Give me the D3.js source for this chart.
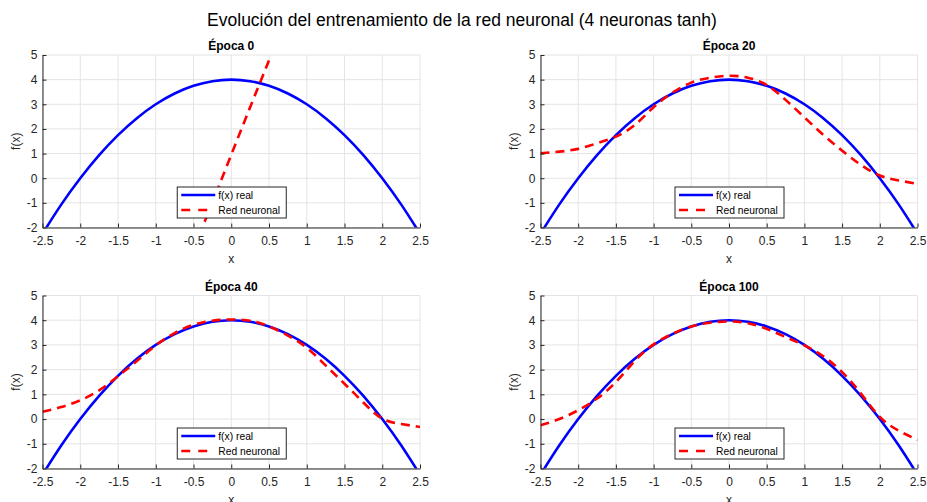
<!DOCTYPE html>
<html>
<head>
<meta charset="utf-8">
<script src="https://cdn.jsdelivr.net/npm/d3@7"></script>
<style>
  html, body { margin: 0; padding: 0; background: #fff; }
  svg { display: block; font-family: "Liberation Sans", Arial, sans-serif; }
</style>
</head>
<body>
<svg id="chart" width="927" height="502"></svg>
<script>
// Sample positions along x
const xs = [-2.5, -2.25, -2, -1.75, -1.5, -1.25, -1, -0.75, -0.5, -0.25, 0,
            0.25, 0.5, 0.75, 1, 1.25, 1.5, 1.75, 2, 2.25, 2.5];

// Target function f(x) = 4 - x^2
const fReal = [-2.25, -1.0625, 0, 0.9375, 1.75, 2.4375, 3, 3.4375, 3.75, 3.9375, 4,
               3.9375, 3.75, 3.4375, 3, 2.4375, 1.75, 0.9375, 0, -1.0625, -2.25];

// Network output at each snapshot
const xsEpoca0 = [-0.5, -0.25, 0, 0.25, 0.5];
const redEpoca0 = [-2.9, -0.98, 0.95, 2.88, 4.78];
const redEpoca20 = [1.01, 1.08, 1.19, 1.42, 1.69, 2.16, 2.88, 3.47, 3.88, 4.08, 4.16,
                    4.08, 3.78, 3.18, 2.47, 1.76, 1.12, 0.54, 0.11, -0.09, -0.23];
const redEpoca40 = [0.29, 0.49, 0.76, 1.16, 1.73, 2.35, 2.98, 3.48, 3.82, 3.98, 4.03,
                    3.98, 3.75, 3.38, 2.89, 2.17, 1.43, 0.67, 0.02, -0.2, -0.32];
const redEpoca100 = [-0.25, 0.0, 0.36, 0.83, 1.5, 2.35, 3.02, 3.45, 3.75, 3.9, 3.95,
                     3.88, 3.65, 3.32, 2.98, 2.54, 1.9, 1.03, 0.09, -0.47, -0.84];

const xTicks = [-2.5, -2, -1.5, -1, -0.5, 0, 0.5, 1, 1.5, 2, 2.5];
const yTicks = [-2, -1, 0, 1, 2, 3, 4, 5];
const panelTitles = ["Época 0", "Época 20", "Época 40", "Época 100"];
const legendLabels = ["f(x) real", "Red neuronal"];
const mainTitle = "Evolución del entrenamiento de la red neuronal (4 neuronas tanh)";

const panels = [
  { title: panelTitles[0], rx: xsEpoca0, ry: redEpoca0, left: 42.5, top: 55, right: 420, bottom: 227.5 },
  { title: panelTitles[1], rx: xs, ry: redEpoca20, left: 540.5, top: 55, right: 917.5, bottom: 227.5 },
  { title: panelTitles[2], rx: xs, ry: redEpoca40, left: 42.5, top: 295.5, right: 420, bottom: 468.5 },
  { title: panelTitles[3], rx: xs, ry: redEpoca100, left: 540.5, top: 295.5, right: 917.5, bottom: 468.5 }
];

const svg = d3.select("#chart");
const axisColor = "#262626";
const gridColor = "#e4e4e4";
const fmt = d => String(d).replace("\u2212", "-");

svg.append("text")
  .attr("x", 462).attr("y", 25.5)
  .attr("text-anchor", "middle")
  .attr("font-size", 17.5)
  .attr("fill", "#000")
  .text(mainTitle);

panels.forEach((p, i) => {
  const w = p.right - p.left, h = p.bottom - p.top;
  const g = svg.append("g").attr("transform", `translate(${p.left},${p.top})`);
  const x = d3.scaleLinear().domain([-2.5, 2.5]).range([0, w]);
  const y = d3.scaleLinear().domain([-2, 5]).range([h, 0]);

  // grid
  g.append("g").selectAll("line").data(xTicks).join("line")
    .attr("x1", d => x(d)).attr("x2", d => x(d)).attr("y1", 0).attr("y2", h)
    .attr("stroke", gridColor).attr("stroke-width", 1);
  g.append("g").selectAll("line").data(yTicks).join("line")
    .attr("y1", d => y(d)).attr("y2", d => y(d)).attr("x1", 0).attr("x2", w)
    .attr("stroke", gridColor).attr("stroke-width", 1);

  const clipId = "clip" + i;
  g.append("clipPath").attr("id", clipId)
    .append("rect").attr("x", 0).attr("y", 0).attr("width", w).attr("height", h);

  const line = d3.line().x(d => x(d[0])).y(d => y(d[1])).curve(d3.curveNatural);
  const plot = g.append("g").attr("clip-path", `url(#${clipId})`);

  plot.append("path")
    .datum(xs.map((v, k) => [v, fReal[k]]))
    .attr("d", line)
    .attr("fill", "none").attr("stroke", "#0000ff").attr("stroke-width", 2.6);

  plot.append("path")
    .datum(p.rx.map((v, k) => [v, p.ry[k]]))
    .attr("d", line)
    .attr("fill", "none").attr("stroke", "#ff0000").attr("stroke-width", 2.6)
    .attr("stroke-dasharray", "9,6");

  // axes
  const xAxis = d3.axisBottom(x).tickValues(xTicks).tickSizeInner(-4).tickSizeOuter(0)
    .tickFormat(fmt).tickPadding(9);
  const yAxis = d3.axisLeft(y).tickValues(yTicks).tickSizeInner(-4).tickSizeOuter(0)
    .tickFormat(fmt).tickPadding(5);

  const gx = g.append("g").attr("transform", `translate(0,${h})`).call(xAxis);
  const gy = g.append("g").call(yAxis);
  [gx, gy].forEach(a => {
    a.select(".domain").attr("stroke", axisColor).attr("stroke-width", 1);
    a.selectAll(".tick line").attr("stroke", axisColor);
    a.selectAll(".tick text").attr("fill", axisColor).attr("font-size", 12)
      .attr("font-family", "'Liberation Sans', Arial, sans-serif");
  });

  g.append("text")
    .attr("x", w / 2).attr("y", -5)
    .attr("text-anchor", "middle").attr("font-size", 12).attr("font-weight", "bold")
    .attr("fill", "#000").text(p.title);

  g.append("text")
    .attr("x", w / 2).attr("y", h + 35)
    .attr("text-anchor", "middle").attr("font-size", 12).attr("fill", axisColor).text("x");

  g.append("text")
    .attr("transform", `translate(-23,${h / 2}) rotate(-90)`)
    .attr("text-anchor", "middle").attr("font-size", 12).attr("fill", axisColor).text("f(x)");

  // legend
  const lw = 109, lh = 31;
  const lg = g.append("g").attr("transform", `translate(${w / 2 - lw / 2 + 0.5},${h - 40.5})`);
  lg.append("rect").attr("width", lw).attr("height", lh)
    .attr("fill", "#fff").attr("stroke", axisColor).attr("stroke-width", 1);
  const styles = [
    { color: "#0000ff", dash: null },
    { color: "#ff0000", dash: "9,8" }
  ];
  legendLabels.forEach((lab, k) => {
    const cy = 8 + k * 15;
    lg.append("line").attr("x1", 4).attr("x2", 38).attr("y1", cy).attr("y2", cy)
      .attr("stroke", styles[k].color).attr("stroke-width", 2.6)
      .attr("stroke-dasharray", styles[k].dash);
    lg.append("text").attr("x", 41).attr("y", cy + 3.5)
      .attr("font-size", 10.3).attr("fill", "#000").text(lab);
  });
});
</script>
</body>
</html>
